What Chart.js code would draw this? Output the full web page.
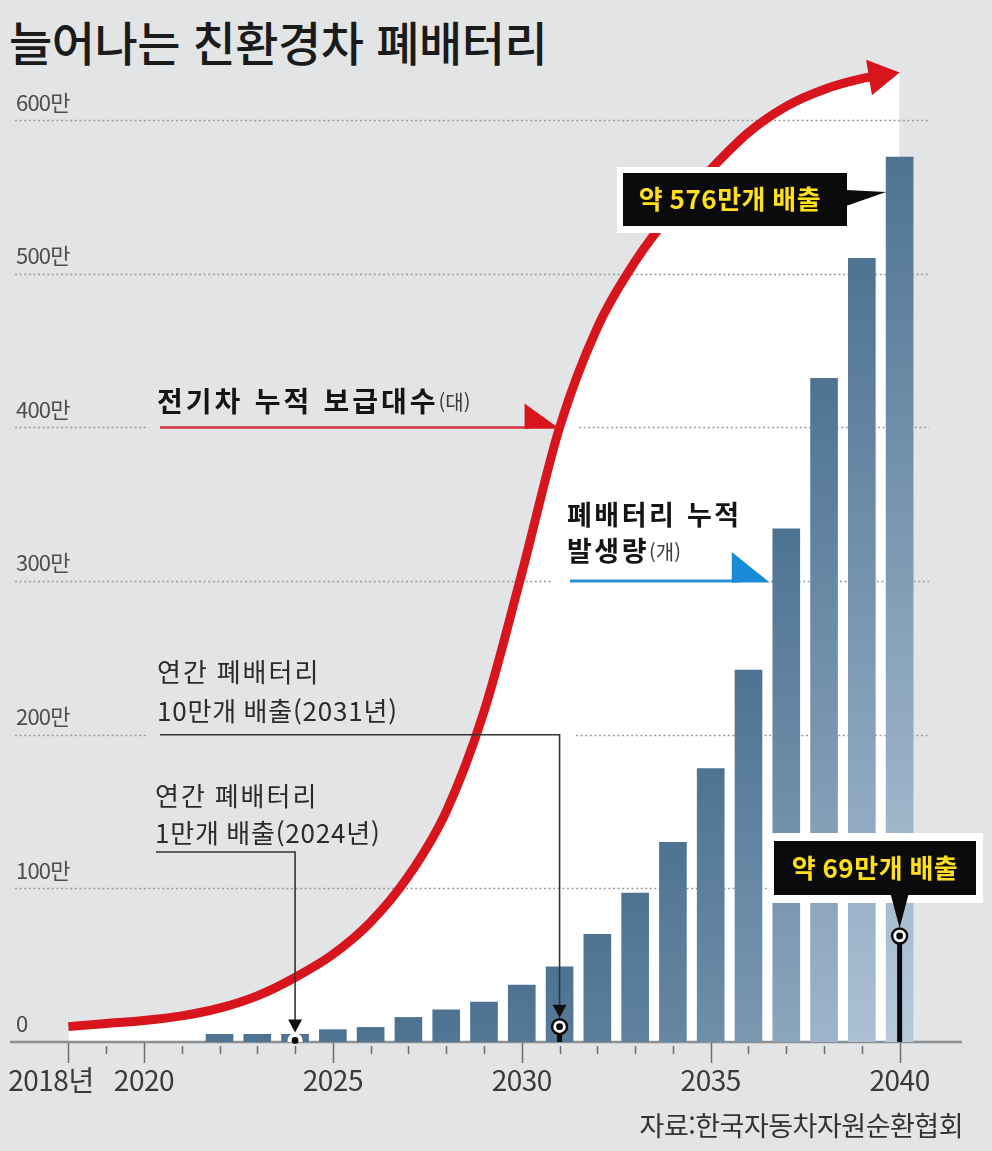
<!DOCTYPE html>
<html lang="ko">
<head>
<meta charset="utf-8">
<title>늘어나는 친환경차 폐배터리</title>
<script src="https://cdn.jsdelivr.net/npm/chart.js@4.4.1/dist/chart.umd.min.js"></script>
<style>
  html, body { margin: 0; padding: 0; }
  body {
    width: 992px; height: 1151px; position: relative; overflow: hidden;
    background: #e2e4e6;
    font-family: "Noto Sans CJK KR", sans-serif;
  }
  #chart { position: absolute; left: 0; top: 0; }
  .title {
    position: absolute; left: 9px; top: 17px;
    font-size: 47px; line-height: 47px; font-weight: 500;
    letter-spacing: -0.5px; color: #1b1b1b;
  }
  .source {
    position: absolute; right: 29px; top: 1111px;
    font-size: 27px; line-height: 27px; letter-spacing: -0.5px; color: #333;
  }
</style>
</head>
<body>
<div class="title">늘어나는 친환경차 폐배터리</div>
<canvas id="chart" width="992" height="1151"></canvas>
<div class="source">자료:한국자동차자원순환협회</div>

<script>
// 전기차 누적 보급대수 (만 대)
const years = [2018, 2019, 2020, 2021, 2022, 2023, 2024, 2025, 2026, 2027, 2028,
               2029, 2030, 2031, 2032, 2033, 2034, 2035, 2036, 2037, 2038, 2039, 2040];
const evStock = [10, 12, 14, 17, 22, 30, 42, 57, 78, 108, 150,
                 215, 305, 400, 465, 508, 541, 568, 592, 609, 620, 627, 631];

// 폐배터리 누적 발생량 (만 개)
const batteryYears = [2022, 2023, 2024, 2025, 2026, 2027, 2028, 2029, 2030, 2031,
                      2032, 2033, 2034, 2035, 2036, 2037, 2038, 2039, 2040];
const batteryStock = [5, 5, 5, 8, 9.5, 16, 21, 26, 37, 49,
                      70, 97, 130, 178, 242, 334, 432, 510, 576];

// 연간 폐배터리 배출량 (만 개)
const annualYears = [2024, 2031, 2040];
const annualBattery = [1, 10, 69];

// axis ticks
const yTicks = [0, 100, 200, 300, 400, 500, 600];
const labeledYears = [2018, 2020, 2025, 2030, 2035, 2040];
const yearLabels = ['2018년', '2020', '2025', '2030', '2035', '2040'];

const FONT = '"Noto Sans CJK KR", sans-serif';
const RED = '#d8141d';
const BLUE = '#2a8fd2';

// gaps in the dotted grid lines where the pointer labels sit
const gridGaps = { 200: [[146, 576]], 300: [[552, 771]], 400: [[146, 579]] };

function mixColor(a, b, t) {
    const c = a.map((v, i) => Math.round(v + (b[i] - v) * t));
    return `rgb(${c[0]}, ${c[1]}, ${c[2]})`;
}

// Bars fade from steel blue at the top to a paler blue at the base;
// taller bars fade further
function barFill(context) {
    const chart = context.chart;
    if (!chart.chartArea || context.type !== 'data') return '#4e7392';
    const y = chart.scales.y;
    const v = context.raw.y;
    const top = y.getPixelForValue(v);
    const base = y.getPixelForValue(0);
    const t = Math.min(1, v / Math.max(...batteryStock));
    const g = chart.ctx.createLinearGradient(0, top, 0, base);
    g.addColorStop(0, '#4e7392');
    g.addColorStop(1, mixColor([78, 115, 146], [184, 202, 220], t));
    return g;
}

function text(ctx, str, x, y, font, color, align, ls, ws) {
    ctx.save();
    ctx.font = font;
    ctx.fillStyle = color;
    ctx.textAlign = align || 'left';
    ctx.textBaseline = 'middle';
    ctx.letterSpacing = ls || '0px';
    ctx.wordSpacing = ws || '0px';
    ctx.fillText(str, x, y);
    const w = ctx.measureText(str).width;
    ctx.restore();
    return w;
}

function triangle(ctx, pts, color) {
    ctx.beginPath();
    ctx.moveTo(pts[0][0], pts[0][1]);
    ctx.lineTo(pts[1][0], pts[1][1]);
    ctx.lineTo(pts[2][0], pts[2][1]);
    ctx.closePath();
    ctx.fillStyle = color;
    ctx.fill();
}

function line(ctx, x1, y1, x2, y2, color, width) {
    ctx.beginPath();
    ctx.moveTo(x1, y1);
    ctx.lineTo(x2, y2);
    ctx.strokeStyle = color;
    ctx.lineWidth = width;
    ctx.stroke();
}

// year where the EV curve reaches a given value
function evYearAt(value) {
    for (let i = 1; i < evStock.length; i++) {
        if (evStock[i] >= value) {
            const t = (value - evStock[i - 1]) / (evStock[i] - evStock[i - 1]);
            return years[i - 1] + t;
        }
    }
    return years[years.length - 1];
}

function drawGrid(chart) {
    const { ctx, scales: { x, y } } = chart;
    ctx.save();
    ctx.strokeStyle = '#9a9c9e';
    ctx.lineWidth = 1.6;
    ctx.setLineDash([2, 2.6]);
    yTicks.forEach(v => {
        if (v === 0) return;
        const py = Math.round(y.getPixelForValue(v)) + 0.5;
        let x0 = 15;
        [...(gridGaps[v] || []), [929, 929]].forEach(([a, b]) => {
            ctx.beginPath();
            ctx.moveTo(x0, py);
            ctx.lineTo(a, py);
            ctx.stroke();
            x0 = b;
        });
    });
    ctx.restore();

    // y labels sit above their grid lines
    yTicks.forEach(v => {
        const py = y.getPixelForValue(v);
        text(ctx, v === 0 ? '0' : v + '만', 16, py - 18,
             `22px ${FONT}`, '#4e4e4e', 'left', '-0.8px');
    });

    // x axis with yearly ticks
    const base = y.getPixelForValue(0);
    ctx.save();
    line(ctx, chart.chartArea.left, base, chart.chartArea.right, base, '#8d8f91', 2.5);
    years.forEach(yr => {
        const px = Math.round(x.getPixelForValue(yr)) + 0.5;
        const major = labeledYears.includes(yr);
        line(ctx, px, base + (major ? 1 : 4), px, base + (major ? 21 : 12), '#6e6e6e', 1.5);
    });
    ctx.restore();
    labeledYears.forEach((yr, i) => {
        const px = x.getPixelForValue(yr);
        if (i === 0) {
            // the unit suffix hangs to the right of the first tick
            ctx.save();
            ctx.font = `28px ${FONT}`;
            ctx.letterSpacing = '-0.5px';
            const w = ctx.measureText('2018').width;
            ctx.restore();
            text(ctx, yearLabels[i], px - w, base + 38, `28px ${FONT}`, '#3a3a3a', 'left', '-0.5px');
        } else {
            text(ctx, yearLabels[i], px, base + 38, `28px ${FONT}`, '#3a3a3a', 'center', '-0.5px');
        }
    });
}

function drawAnnotations(chart) {
    const { ctx, scales: { x, y } } = chart;
    const bars = chart.getDatasetMeta(1).data;
    const marks = chart.getDatasetMeta(2).data;

    // EV series pointer
    const evY = y.getPixelForValue(400);
    const evX = x.getPixelForValue(evYearAt(400));
    let w = text(ctx, '전기차 누적 보급대수', 157, evY - 26, `bold 28px ${FONT}`, '#151515', 'left', '3px', '2px');
    text(ctx, '(대)', 157 + w, evY - 25, `20px ${FONT}`, '#3c3c3c', 'left');
    line(ctx, 160, evY, evX - 30, evY, '#d8343d', 2.5);
    triangle(ctx, [[evX - 35, evY - 24], [evX - 35, evY + 1.2], [evX, evY + 1.2]], RED);

    // battery series pointer
    const bY = y.getPixelForValue(300);
    const bar37 = bars[batteryYears.indexOf(2037)];
    const bTip = bar37.x - bar37.width / 2 - 3;
    text(ctx, '폐배터리 누적', 567, bY - 66, `bold 27px ${FONT}`, '#151515', 'left', '2.5px', '2px');
    w = text(ctx, '발생량', 567, bY - 30, `bold 27px ${FONT}`, '#151515', 'left', '2.5px');
    text(ctx, '(개)', 567 + w, bY - 29, `20px ${FONT}`, '#3c3c3c', 'left');
    line(ctx, 570, bY, bTip - 30, bY, BLUE, 3);
    triangle(ctx, [[bTip - 38, bY - 29], [bTip - 38, bY + 1.5], [bTip, bY + 1.5]], '#1b8ad6');

    // 2040 cumulative callout
    const bar40 = bars[batteryYears.indexOf(2040)];
    ctx.fillStyle = '#ffffff';
    ctx.fillRect(617, 167, 236, 66);
    ctx.fillStyle = '#0b0b0b';
    ctx.fillRect(623, 173, 224, 53);
    triangle(ctx, [[846, 190], [846, 206], [bar40.x - bar40.width / 2, 192]], '#0b0b0b');
    text(ctx, '약 576만개 배출', 730, 199, `bold 26px ${FONT}`, '#ffe01a', 'center', '0.5px');

    // annual emission markers: leaders and arrows
    const arrowDown = (px, tipY) => triangle(ctx, [[px - 7, tipY - 13], [px + 7, tipY - 13], [px, tipY]], '#111');
    const note = `26px ${FONT}`;

    const m24 = marks[0];
    text(ctx, '연간 폐배터리', 155, 796, note, '#2b2b2b', 'left', '2px');
    text(ctx, '1만개 배출(2024년)', 155, 833, note, '#2b2b2b', 'left', '0.8px');
    ctx.save();
    ctx.beginPath();
    ctx.moveTo(156, 852);
    ctx.lineTo(m24.x, 852);
    ctx.lineTo(m24.x, m24.y - 20);
    ctx.strokeStyle = '#333';
    ctx.lineWidth = 1.6;
    ctx.stroke();
    ctx.restore();
    arrowDown(m24.x, m24.y - 8);

    const m31 = marks[1];
    const leadY = y.getPixelForValue(200);
    text(ctx, '연간 폐배터리', 157, 672, note, '#2b2b2b', 'left', '2px');
    text(ctx, '10만개 배출(2031년)', 157, 711, note, '#2b2b2b', 'left', '0.8px');
    ctx.save();
    ctx.beginPath();
    ctx.moveTo(160, leadY);
    ctx.lineTo(m31.x, leadY);
    ctx.lineTo(m31.x, m31.y - 22);
    ctx.strokeStyle = '#333';
    ctx.lineWidth = 1.6;
    ctx.stroke();
    ctx.restore();
    arrowDown(m31.x, m31.y - 9);

    // 2040 annual callout
    const m40 = marks[2];
    ctx.fillStyle = '#ffffff';
    ctx.fillRect(769, 833, 214, 70);
    ctx.fillStyle = '#0b0b0b';
    ctx.fillRect(774, 841, 202, 54);
    triangle(ctx, [[m40.x - 9, 894], [m40.x + 9, 894], [m40.x, m40.y - 8]], '#0b0b0b');
    text(ctx, '약 69만개 배출', 875, 868, `bold 26px ${FONT}`, '#ffe01a', 'center', '0.5px');
}

const decor = {
    id: 'decor',
    beforeDatasetsDraw(chart) {
        drawGrid(chart);
    },
    beforeDatasetDraw(chart, args) {
        const ctx = chart.ctx;
        if (args.index === 0) {
            // stop the curve short so the arrowhead gets a clean point
            const last = args.meta.data[args.meta.data.length - 1];
            ctx.save();
            ctx.beginPath();
            ctx.rect(0, 0, last.x - 22, chart.height);
            ctx.clip();
        }
        if (args.index === 2) {
            const base = chart.scales.y.getPixelForValue(0);
            args.meta.data.forEach((p, i) => {
                if (annualBattery[i] < 5) return;
                line(ctx, p.x, p.y, p.x, base, '#0b0b0b', 5);
            });
        }
    },
    afterDatasetDraw(chart, args) {
        const ctx = chart.ctx;
        if (args.index === 0) {
            ctx.restore();
            const pts = args.meta.data;
            const tip = pts[pts.length - 1];
            const prev = pts[pts.length - 2];
            const ang = Math.atan2(tip.y - prev.y, tip.x - prev.x);
            const len = 31, half = 18;
            const bx = tip.x - Math.cos(ang) * len, by = tip.y - Math.sin(ang) * len;
            triangle(ctx, [
                [tip.x, tip.y],
                [bx + Math.sin(ang) * half, by - Math.cos(ang) * half],
                [bx - Math.sin(ang) * half, by + Math.cos(ang) * half]
            ], RED);
        }
        if (args.index === 2) {
            args.meta.data.forEach(p => {
                ctx.beginPath();
                ctx.arc(p.x, p.y, 3.4, 0, Math.PI * 2);
                ctx.fillStyle = '#0b0b0b';
                ctx.fill();
            });
        }
    },
    afterDatasetsDraw(chart) {
        drawAnnotations(chart);
    }
};

new Chart(document.getElementById('chart'), {
    type: 'bar',
    data: {
        datasets: [
            {
                type: 'line',
                label: '전기차 누적 보급대수',
                data: years.map((yr, i) => ({ x: yr, y: evStock[i] })),
                borderColor: RED,
                borderWidth: 9,
                borderCapStyle: 'butt',
                pointRadius: 0,
                cubicInterpolationMode: 'monotone',
                fill: 'origin',
                backgroundColor: '#ffffff',
                order: 3
            },
            {
                type: 'bar',
                label: '폐배터리 누적 발생량',
                data: batteryYears.map((yr, i) => ({ x: yr, y: batteryStock[i] })),
                backgroundColor: barFill,
                barThickness: 27,
                order: 2
            },
            {
                type: 'line',
                label: '연간 폐배터리 배출',
                data: annualYears.map((yr, i) => ({ x: yr, y: annualBattery[i] })),
                showLine: false,
                pointRadius: 7.5,
                pointBorderWidth: [0, 2.5, 2.5],
                pointBorderColor: '#0b0b0b',
                pointBackgroundColor: '#ffffff',
                order: 1
            }
        ]
    },
    options: {
        responsive: false,
        animation: false,
        events: [],
        layout: { padding: { left: 8, right: 30, top: 28, bottom: 109 } },
        scales: {
            x: { type: 'linear', display: false, offset: false, min: 2016.455, max: 2041.651 },
            y: { display: false, min: 0, max: 660 }
        },
        plugins: {
            legend: { display: false },
            tooltip: { enabled: false },
            filler: { drawTime: 'beforeDatasetsDraw' }
        }
    },
    plugins: [decor]
});
</script>
</body>
</html>
